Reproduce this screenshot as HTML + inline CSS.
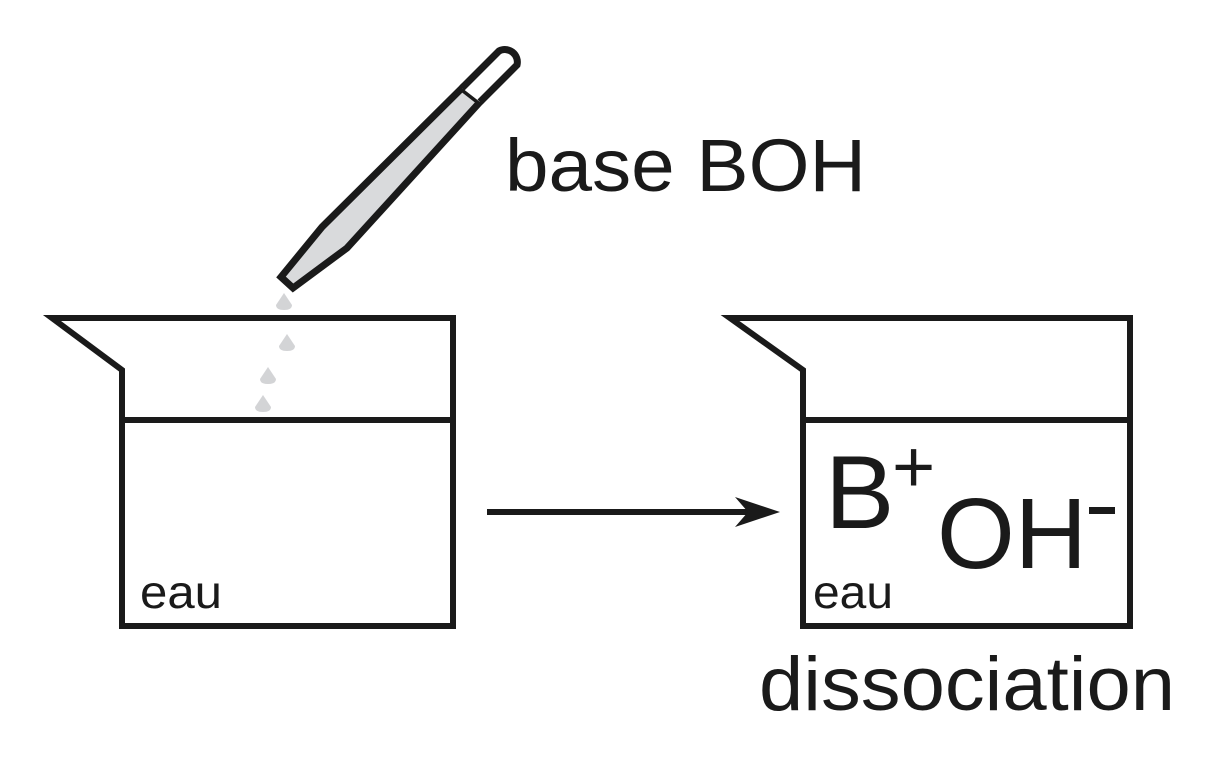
<!DOCTYPE html>
<html><head><meta charset="utf-8"><style>html,body{margin:0;padding:0;background:#fff}svg{display:block}</style></head>
<body>
<svg width="1219" height="760" viewBox="0 0 1219 760" xmlns="http://www.w3.org/2000/svg" font-family="Liberation Sans, sans-serif" fill="#1a1a1a">
<g fill="none" stroke="#1a1a1a" stroke-width="6" stroke-linejoin="miter">
  <path d="M52,318 L453,318 L453,626 L122,626 L122,370 Z"/>
  <line x1="122" y1="420" x2="453" y2="420"/>
  <path d="M730,318 L1130,318 L1130,626 L803,626 L803,370 Z"/>
  <line x1="803" y1="420" x2="1130" y2="420"/>
  <line x1="487" y1="512" x2="750" y2="512"/>
</g>
<path d="M780,512 L735,497 L748,512 L735,527 Z" fill="#1a1a1a"/>
<!-- pipette -->
<path d="M322,227 L462,88 L480,102 L347,248 L293,288 L281,277 Z" fill="#d9dadc" stroke="#1a1a1a" stroke-width="7" stroke-linejoin="miter"/>
<path d="M462,88 L499,51 A12.5,12.5 0 0 1 517,65 L480,102" fill="#fff" stroke="#1a1a1a" stroke-width="7"/>
<g fill="#d3d4d6">
  <path d="M284,293 Q278,302 276,305 Q276,310 284,310 Q292,310 292,305 Q290,302 284,293Z"/>
  <path d="M287,334 Q281,343 279,346 Q279,351 287,351 Q295,351 295,346 Q293,343 287,334Z"/>
  <path d="M268,367 Q262,376 260,379 Q260,384 268,384 Q276,384 276,379 Q274,376 268,367Z"/>
  <path d="M263,395 Q257,404 255,407 Q255,412 263,412 Q271,412 271,407 Q269,404 263,395Z"/>
</g>
<text x="505" y="191" font-size="74" textLength="361" lengthAdjust="spacingAndGlyphs">base BOH</text>
<text x="759" y="710" font-size="76" textLength="416" lengthAdjust="spacingAndGlyphs">dissociation</text>
<text x="140" y="608" font-size="46" textLength="82" lengthAdjust="spacingAndGlyphs">eau</text>
<text x="813" y="608" font-size="46" textLength="80" lengthAdjust="spacingAndGlyphs">eau</text>
<text x="825" y="528" font-size="104">B</text>
<text x="892" y="492" font-size="74">+</text>
<text x="937" y="568" font-size="100">OH</text>
<rect x="1089" y="507" width="26" height="7" fill="#1a1a1a"/>
</svg>
</body></html>
